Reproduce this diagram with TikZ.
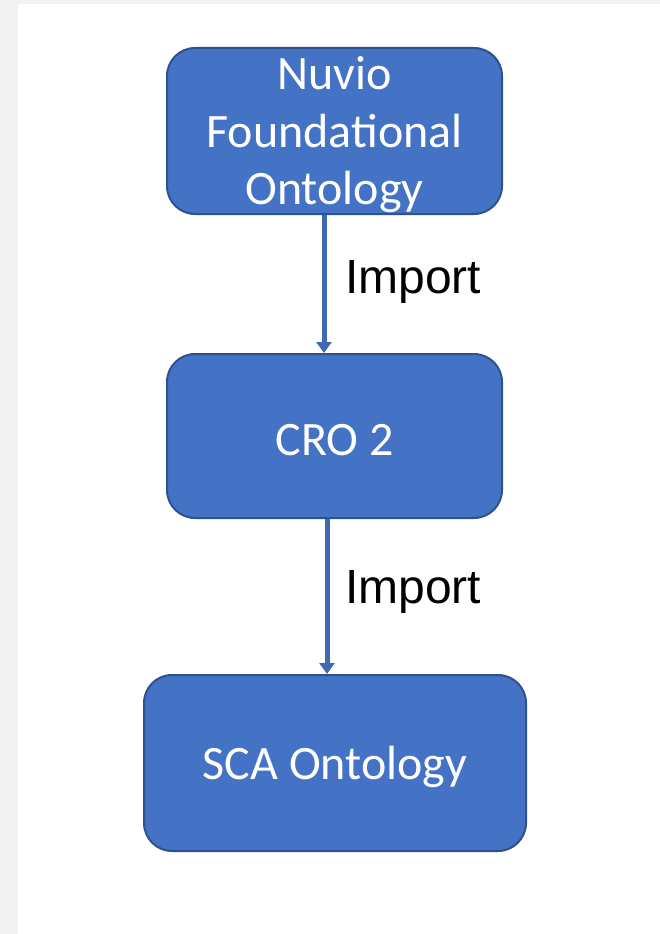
\documentclass[tikz,border=0pt]{standalone}
\usepackage{fontspec}
\setmainfont{Carlito}
\newfontfamily\arialfont{Liberation Sans}
\usetikzlibrary{arrows.meta}
\definecolor{boxfill}{HTML}{4472C4}
\definecolor{boxline}{HTML}{2F528F}
\definecolor{arrowcol}{HTML}{3F69B5}
\definecolor{pagegray}{HTML}{F2F2F2}
\begin{document}
\begin{tikzpicture}[x=1pt,y=-1pt,
  onto/.style={draw=boxline, line width=2pt, fill=boxfill, rounded corners=28pt, inner sep=0pt},
  boxtext/.style={text=white, align=center, inner sep=0pt, yshift=-4pt,
    font=\fontsize{48}{57.5}\selectfont},
  imparrow/.style={draw=arrowcol, line width=5pt, -{Triangle[width=15pt,length=11pt]}},
  implabel/.style={anchor=west, inner sep=0pt, font=\arialfont\fontsize{48}{56}\selectfont}
]
\useasboundingbox (0,0) rectangle (660,934);
\fill[pagegray] (0,0) rectangle (660,934);
\fill[white] (18,4) rectangle (660,934);

\node[onto, minimum width=335pt, minimum height=166pt,
  label={[boxtext]center:Nuvio\\Foundational\\Ontology}] (b1) at (334.5,131) {};
\node[onto, minimum width=335pt, minimum height=164pt,
  label={[boxtext]center:CRO 2}] (b2) at (334.5,436) {};
\node[onto, minimum width=382pt, minimum height=176pt,
  label={[boxtext]center:SCA Ontology}] (b3) at (335,763) {};

\coordinate (x1) at (324,0);
\coordinate (x2) at (327,0);
\draw[imparrow] (b1.south -| x1) -- (b2.north -| x1);
\draw[imparrow] (b2.south -| x2) -- (b3.north -| x2);

\node[implabel] (l1) at (345,282) {Import};
\node[implabel] (l2) at (345,592) {Import};
\end{tikzpicture}
\end{document}
